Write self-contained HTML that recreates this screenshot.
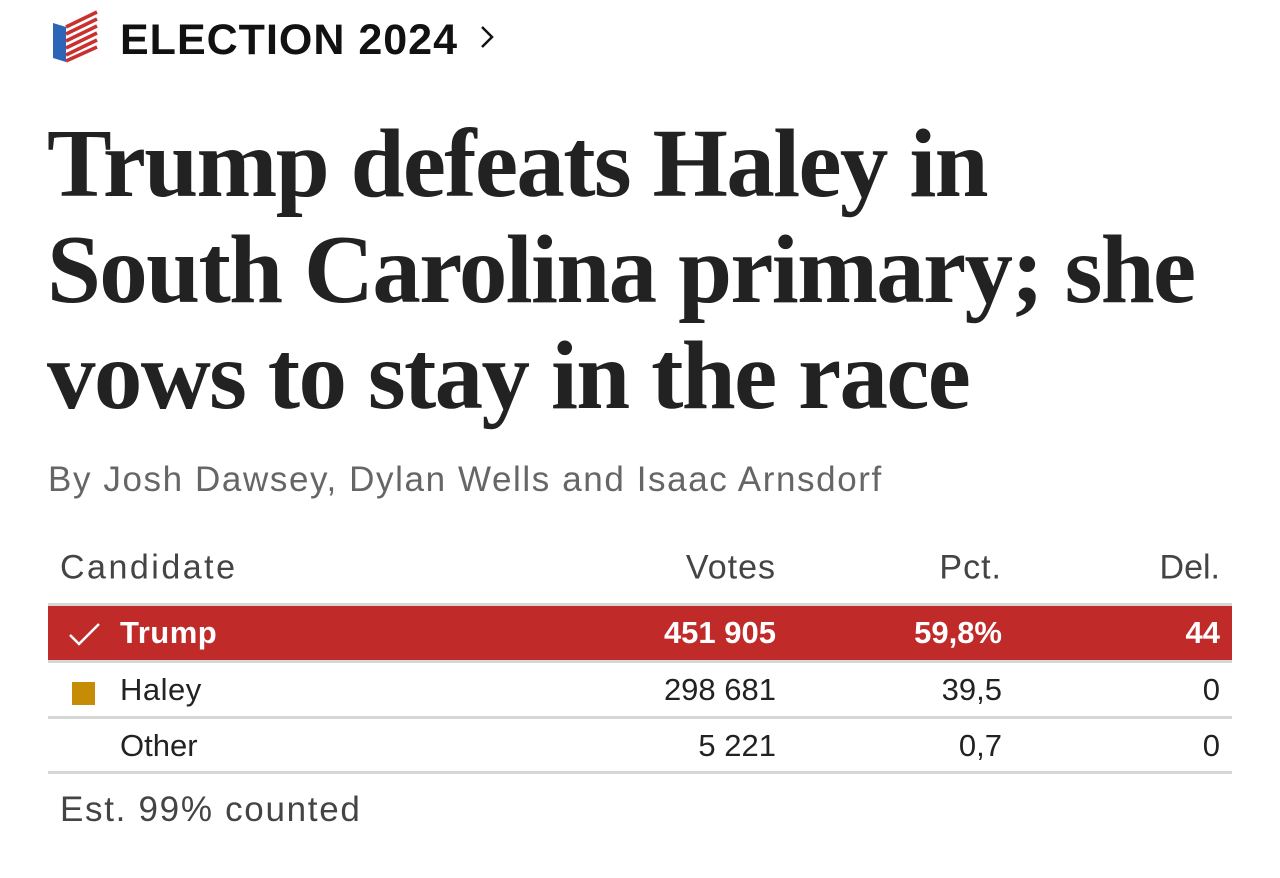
<!DOCTYPE html>
<html><head><meta charset="utf-8"><style>
body{margin:0;width:1280px;height:878px;background:#fff;overflow:hidden;position:relative;font-family:"Liberation Sans",sans-serif;}
.abs{position:absolute;white-space:nowrap;}
.k{font-weight:bold;font-size:43px;color:#111;left:120px;top:16px;letter-spacing:1px;}
h1{position:absolute;left:47px;top:111px;margin:0;font-family:"Liberation Serif",serif;font-weight:bold;font-size:97px;line-height:106px;color:#222;letter-spacing:-1.65px;}
.by{left:48px;top:460px;font-size:35px;color:#666;letter-spacing:1.6px;}
.row{position:absolute;left:48px;width:1184px;height:54px;font-size:31px;color:#222;}
.row span{position:absolute;top:50%;transform:translateY(-50%);}
.c1{left:72px}.v{right:456px}.p{right:230px}.d{right:12px}
</style></head><body>
<svg class="abs" style="left:50px;top:10px" width="50" height="54" viewBox="0 0 50 54">
<polygon points="3,13 16,17 16,52 3,48" fill="#2c64b8"/>
<g stroke="#c8312f" stroke-width="3.5">
<line x1="16" y1="17" x2="47" y2="2"/><line x1="16" y1="24" x2="47" y2="9"/><line x1="16" y1="31" x2="47" y2="16"/><line x1="16" y1="38" x2="47" y2="23"/><line x1="16" y1="45" x2="47" y2="30"/><line x1="16" y1="51" x2="47" y2="37"/></g></svg>
<div class="abs k">ELECTION 2024</div>
<svg class="abs" style="left:478px;top:24px" width="18" height="30"><polyline points="4,3 14,13 4,23" fill="none" stroke="#111" stroke-width="2.5"/></svg>
<h1>Trump defeats Haley in<br>South Carolina primary; she<br>vows to stay in the race</h1>
<div class="abs by">By Josh Dawsey, Dylan Wells and Isaac Arnsdorf</div>
<div class="row" style="top:541px;color:#444;font-size:34px"><span style="left:12px;letter-spacing:2.5px">Candidate</span><span class="v" style="letter-spacing:1px">Votes</span><span class="p" style="letter-spacing:1px">Pct.</span><span class="d">Del.</span></div>
<div class="abs" style="left:48px;top:603px;width:1184px;height:3px;background:#d6d6d6"></div>
<div class="row" style="top:606px;background:#c02a28;color:#fff;font-weight:bold;height:54px">
<svg style="position:absolute;left:20px;top:15px" width="34" height="26"><polyline points="2,14 11,23 31,3" fill="none" stroke="#fff" stroke-width="2.5"/></svg>
<span class="c1" style="letter-spacing:0.5px">Trump</span><span class="v">451 905</span><span class="p">59,8%</span><span class="d">44</span></div>
<div class="abs" style="left:48px;top:660px;width:1184px;height:3px;background:#d6d6d6"></div>
<div class="row" style="top:663px"><div style="position:absolute;left:24px;top:19px;width:23px;height:23px;background:#c78c06"></div><span class="c1" style="letter-spacing:0.5px">Haley</span><span class="v">298 681</span><span class="p">39,5</span><span class="d">0</span></div>
<div class="abs" style="left:48px;top:716px;width:1184px;height:3px;background:#d6d6d6"></div>
<div class="row" style="top:719px"><span class="c1">Other</span><span class="v">5 221</span><span class="p">0,7</span><span class="d">0</span></div>
<div class="abs" style="left:48px;top:771px;width:1184px;height:3px;background:#d6d6d6"></div>
<div class="abs" style="left:60px;top:790px;font-size:35px;color:#444;letter-spacing:1.7px">Est. 99% counted</div>
</body></html>
